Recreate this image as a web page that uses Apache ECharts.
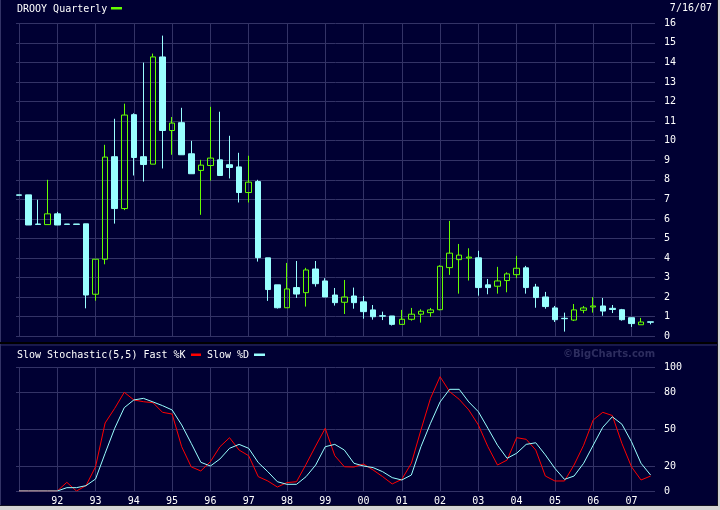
<!DOCTYPE html>
<html>
<head>
<meta charset="utf-8">
<script src="https://cdn.jsdelivr.net/npm/echarts@6/dist/echarts.min.js"></script>
<style>
  html, body { margin: 0; padding: 0; background: #d4d4d4; }
  #chart { width: 720px; height: 510px; }
</style>
</head>
<body>
<div id="chart"></div>
<script>
const years = ["91", "92", "93", "94", "95", "96", "97", "98", "99", "00", "01", "02", "03", "04", "05", "06", "07"];
// one category per quarter, 91Q1 .. 07Q3
const quarters = years.flatMap((y) => [y + "Q1", y + "Q2", y + "Q3", y + "Q4"]).slice(0, 67);

// [open, close, low, high]
const prices = [
  [7.23, 7.21, 7.21, 7.23], [7.23, 5.69, 5.69, 7.23], [5.74, 5.72, 5.72, 6.98], [5.71, 6.26, 5.71, 8.0],
  [6.26, 5.69, 5.69, 6.36], [5.74, 5.72, 5.72, 5.74], [5.74, 5.72, 5.72, 5.74], [5.75, 2.11, 1.43, 5.75],
  [2.15, 3.94, 1.82, 3.94], [3.94, 9.16, 3.68, 9.79], [9.18, 6.53, 5.76, 11.12], [6.53, 11.31, 6.45, 11.89],
  [11.33, 9.14, 8.22, 11.4], [9.18, 8.78, 7.91, 13.99], [8.8, 14.28, 8.8, 14.45], [14.28, 10.52, 8.58, 15.37],
  [10.52, 10.9, 9.28, 11.21], [10.92, 9.28, 9.28, 11.68], [9.33, 8.31, 8.31, 9.99], [8.48, 8.75, 6.21, 9.02],
  [8.73, 9.11, 7.96, 11.73], [9.02, 8.22, 8.22, 11.48], [8.77, 8.63, 8.07, 10.25], [8.66, 7.35, 6.84, 9.38],
  [7.35, 7.88, 6.84, 9.23], [7.91, 4.02, 3.82, 8.0], [4.01, 2.39, 1.81, 4.01], [2.63, 1.46, 1.42, 2.63],
  [1.46, 2.42, 1.46, 3.75], [2.49, 2.16, 1.96, 3.85], [2.23, 3.39, 1.52, 3.5], [3.44, 2.69, 2.54, 3.85],
  [2.83, 2.01, 2.01, 2.97], [2.11, 1.72, 1.57, 2.47], [1.74, 2.01, 1.14, 2.88], [2.06, 1.72, 1.41, 2.49],
  [1.76, 1.26, 0.9, 2.06], [1.35, 1.0, 0.85, 1.6], [1.05, 1.03, 0.83, 1.26], [1.04, 0.61, 0.55, 1.04],
  [0.61, 0.87, 0.61, 1.35], [0.87, 1.13, 0.8, 1.45], [1.13, 1.28, 0.7, 1.38], [1.21, 1.35, 1.0, 1.45],
  [1.36, 3.58, 1.33, 3.63], [3.51, 4.25, 3.14, 5.9], [3.92, 4.15, 2.18, 4.72], [4.0, 4.05, 2.85, 4.5],
  [4.01, 2.49, 2.08, 4.37], [2.63, 2.49, 2.15, 2.93], [2.56, 2.83, 2.18, 3.55], [2.85, 3.19, 2.25, 3.27],
  [3.15, 3.48, 2.97, 4.11], [3.5, 2.49, 2.18, 3.6], [2.52, 1.98, 1.46, 2.68], [2.01, 1.52, 1.41, 2.27],
  [1.45, 0.85, 0.73, 1.55], [0.92, 0.9, 0.24, 1.21], [0.83, 1.35, 0.78, 1.65], [1.33, 1.45, 1.18, 1.55],
  [1.5, 1.55, 1.21, 2.0], [1.55, 1.29, 1.05, 1.96], [1.43, 1.37, 1.19, 1.6], [1.36, 0.85, 0.8, 1.4],
  [0.95, 0.65, 0.48, 0.95], [0.59, 0.73, 0.59, 0.94], [0.74, 0.72, 0.61, 0.74]
];

const fastK = [
  0, 0, 0, 0, 0, 7, 0, 4.3, 19.6, 55, 66.8, 79.8, 73.6, 72.2, 71.4, 63.6,
  62.2, 35.8, 19.5, 16.2, 23.7, 35.8, 43.1, 33.1, 28.5, 11.6, 8.1, 3.2, 6.8, 7.5, 21.6, 36.4,
  50.7, 28.5, 19.6, 19.4, 21.8, 17, 11.6, 5.7, 9.4, 22.4, 49.3, 74.9, 92.4, 80.3, 74.1, 65.5,
  53.4, 35.8, 21, 25, 43.1, 41.8, 33.1, 12.1, 8.1, 8.1, 21, 37, 57.4, 63.6, 61, 38.5,
  19.6, 8.9, 12.1
];

const slowD = [
  0, 0, 0, 0, 0, 2.7, 2.7, 4.3, 9.7, 30.5, 50.7, 67.4, 73.6, 74.9, 72, 69,
  65.5, 53.4, 38.5, 23.2, 20.2, 25.9, 34.5, 37.7, 34.5, 23, 15.6, 7.5, 5.4, 5.4, 11.6, 21,
  35.8, 37.7, 33.1, 22.4, 20.2, 18.9, 15.6, 10.8, 8.9, 12.9, 35.8, 54.7, 72, 82.2, 82.2, 72,
  64.1, 50.7, 37, 26.4, 30.5, 37.7, 39, 29.2, 18.3, 9.4, 12.1, 22.4, 37, 51.5, 60, 54,
  39.9, 22.4, 12.9
];

const stochTicks = [0, 20, 50, 80, 100];

const BG = "#000033";
const GRID = "#333366";
const CYAN = "#99ffff";
const GREEN = "#66ff00";
const RED = "#ff0000";
const MONO = "'DejaVu Sans Mono', monospace";

const chart = echarts.init(document.getElementById("chart"), null, { renderer: "canvas" });

const labelStyle = { color: "#ffffff", fontFamily: MONO, fontSize: 10 };
const yearLine = (index) => index % 4 === 0;

function hiddenValueX(gridIndex) {
  return { type: "value", gridIndex, show: false, min: 0, max: 1 };
}

function quarterAxis(gridIndex, withLabels) {
  return {
    type: "category",
    gridIndex,
    data: quarters,
    boundaryGap: false,
    axisLine: { show: false },
    axisTick: { show: false },
    axisLabel: withLabels
      ? {
          ...labelStyle,
          interval: 0,
          margin: 5,
          formatter: (v, i) => (i > 0 && i % 4 === 0 ? v.slice(0, 2) : "")
        }
      : { show: false },
    splitLine: { show: true, interval: yearLine, lineStyle: { color: GRID, width: 1 } }
  };
}

chart.setOption({
  backgroundColor: BG,
  animation: false,
  grid: [
    { left: 16, width: 639, top: 23.3, height: 313 },
    { left: 19, width: 631.6, top: 23.3, height: 313 },
    { left: 16, width: 639, top: 367.3, height: 123.7 },
    { left: 19, width: 631.6, top: 367.3, height: 123.7 }
  ],
  xAxis: [
    hiddenValueX(0),
    quarterAxis(1, false),
    hiddenValueX(2),
    quarterAxis(3, true)
  ],
  yAxis: [
    {
      type: "value", gridIndex: 0, position: "right", min: 0, max: 16, interval: 1,
      axisLine: { show: false }, axisTick: { show: false },
      axisLabel: { ...labelStyle, margin: 9 },
      splitLine: { lineStyle: { color: GRID, width: 1 } }
    },
    { type: "value", gridIndex: 1, min: 0, max: 16, show: false },
    {
      type: "value", gridIndex: 2, position: "right", min: 0, max: 100, interval: 10,
      axisLine: { show: false }, axisTick: { show: false },
      axisLabel: { ...labelStyle, margin: 9, formatter: (v) => (stochTicks.includes(v) ? String(v) : "") },
      splitLine: {
        lineStyle: {
          color: Array.from({ length: 11 }, (_, i) => (stochTicks.includes(i * 10) ? GRID : "rgba(0,0,0,0)")),
          width: 1
        }
      }
    },
    { type: "value", gridIndex: 3, min: 0, max: 100, show: false }
  ],
  series: [
    {
      name: "DROOY",
      type: "candlestick",
      xAxisIndex: 1,
      yAxisIndex: 1,
      data: prices,
      barWidth: 6,
      clip: false,
      itemStyle: {
        color: "rgba(0,0,0,0)",
        color0: CYAN,
        borderColor: GREEN,
        borderColor0: CYAN,
        borderWidth: 1
      }
    },
    {
      name: "Fast %K",
      type: "line",
      xAxisIndex: 3,
      yAxisIndex: 3,
      data: fastK,
      showSymbol: false,
      lineStyle: { color: RED, width: 1 }
    },
    {
      name: "Slow %D",
      type: "line",
      xAxisIndex: 3,
      yAxisIndex: 3,
      data: slowD,
      showSymbol: false,
      lineStyle: { color: CYAN, width: 1 }
    }
  ],
  graphic: [
    // panel frame
    { type: "rect", silent: true, shape: { x: 0, y: 0, width: 1, height: 505 }, style: { fill: GRID } },
    { type: "rect", silent: true, shape: { x: 0, y: 342, width: 718, height: 2 }, style: { fill: "#000000" } },
    { type: "rect", silent: true, shape: { x: 0, y: 344.5, width: 718, height: 1 }, style: { fill: GRID } },
    { type: "rect", silent: true, shape: { x: 0, y: 505, width: 718, height: 1 }, style: { fill: "#111122" } },
    { type: "rect", silent: true, shape: { x: 0, y: 506, width: 720, height: 4 }, style: { fill: "#d4d4d4" } },
    { type: "rect", silent: true, shape: { x: 717, y: 0, width: 1, height: 506 }, style: { fill: "#111122" } },
    { type: "rect", silent: true, shape: { x: 718, y: 0, width: 2, height: 510 }, style: { fill: "#d4d4d4" } },
    // headers
    {
      type: "text", silent: true, x: 17, y: 9,
      style: { text: "DROOY Quarterly", fill: "#ffffff", font: "10px " + MONO, verticalAlign: "middle" }
    },
    { type: "rect", silent: true, shape: { x: 111, y: 7, width: 11, height: 2.5 }, style: { fill: GREEN } },
    {
      type: "text", silent: true, x: 712, y: 8,
      style: { text: "7/16/07", fill: "#ffffff", font: "10px " + MONO, align: "right", verticalAlign: "middle" }
    },
    {
      type: "text", silent: true, x: 17, y: 355,
      style: { text: "Slow Stochastic(5,5) Fast %K", fill: "#ffffff", font: "10px " + MONO, verticalAlign: "middle" }
    },
    { type: "rect", silent: true, shape: { x: 191, y: 353.5, width: 10, height: 2.5 }, style: { fill: RED } },
    {
      type: "text", silent: true, x: 207, y: 355,
      style: { text: "Slow %D", fill: "#ffffff", font: "10px " + MONO, verticalAlign: "middle" }
    },
    { type: "rect", silent: true, shape: { x: 254, y: 353.5, width: 11, height: 2.5 }, style: { fill: CYAN } },
    {
      type: "text", silent: true, x: 563, y: 354,
      style: { text: "\u00a9BigCharts.com", fill: "#2d2d5f", font: "bold 10px 'DejaVu Sans', sans-serif", verticalAlign: "middle" }
    }
  ]
});
</script>
</body>
</html>
